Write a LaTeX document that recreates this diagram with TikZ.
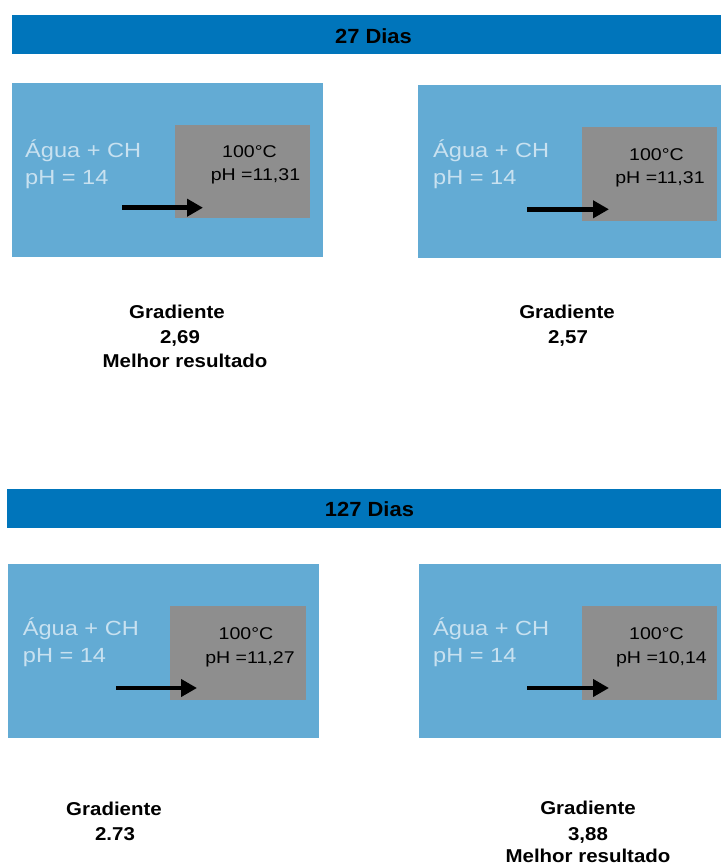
\documentclass[tikz,border=0pt]{standalone}
\usepackage{fontspec}
\setmainfont{Liberation Sans}
\newfontfamily\boxfont[FakeStretch=1.15]{Liberation Sans}
\newfontfamily\labfont[FakeStretch=1.1]{Liberation Sans}
\newfontfamily\titfont[FakeStretch=1.07]{Liberation Sans}
\usetikzlibrary{arrows.meta}
\definecolor{barblue}{RGB}{0,117,187}
\definecolor{boxblue}{RGB}{99,171,212}
\definecolor{boxgray}{RGB}{142,142,142}
\definecolor{paletext}{RGB}{200,225,240}
\begin{document}
\begin{tikzpicture}[x=1pt,y=-1pt,
  rectbox/.style={inner sep=0pt, outer sep=0pt, anchor=north west},
  barbox/.style={rectbox, fill=barblue},
  bluebox/.style={rectbox, fill=boxblue},
  graybox/.style={rectbox, fill=boxgray},
  titletext/.style={inner sep=0pt, anchor=base, font=\titfont\bfseries\fontsize{20.5}{24}\selectfont},
  bluetext/.style={inner sep=0pt, anchor=base west, text=paletext, font=\boxfont\fontsize{20.5}{24}\selectfont},
  graytext/.style={inner sep=0pt, anchor=base, text=black, font=\boxfont\fontsize{17}{20}\selectfont},
  labtext/.style={inner sep=0pt, anchor=base, font=\labfont\bfseries\fontsize{18.6}{22}\selectfont},
  heat/.style={line width=4.5pt, -{Triangle[length=16pt,width=17pt]}}]
\useasboundingbox (0,0) rectangle (721,865);

% ---- 27 Dias ----
\node[barbox, minimum width=709pt, minimum height=39pt] (bar1) at (12,15) {};
\node[titletext] (t1) at (373.5,43) {27 Dias};

\node[bluebox, minimum width=311pt, minimum height=174pt] (b1) at (12,83) {};
\node[graybox, minimum width=135pt, minimum height=93pt] (g1) at (175,125) {};
\node[bluetext] (a1) at (25,157) {Água + CH};
\node[bluetext] (p1) at (25,184) {pH = 14};
\node[graytext] (c1) at (249.5,157) {100°C};
\node[graytext] (h1) at (255.5,180.5) {pH =11,31};
\coordinate (s1) at (122,207.7);
\coordinate (e1) at (203,207.7);
\draw[heat] (s1) -- (e1);

\node[bluebox, minimum width=303pt, minimum height=173pt] (b2) at (418,85) {};
\node[graybox, minimum width=135pt, minimum height=94pt] (g2) at (582,127) {};
\node[bluetext] (a2) at (433,157) {Água + CH};
\node[bluetext] (p2) at (433,184) {pH = 14};
\node[graytext] (c2) at (656.5,160) {100°C};
\node[graytext] (h2) at (660,183) {pH =11,31};
\coordinate (s2) at (527,209.3);
\coordinate (e2) at (609,209.3);
\draw[heat] (s2) -- (e2);

\node[labtext] (l1a) at (177,318) {Gradiente};
\node[labtext] (l1b) at (180,343) {2,69};
\node[labtext] (l1c) at (185,367) {Melhor resultado};
\node[labtext] (l2a) at (567,318) {Gradiente};
\node[labtext] (l2b) at (568,343) {2,57};

% ---- 127 Dias ----
\node[barbox, minimum width=714pt, minimum height=39pt] (bar2) at (7,489) {};
\node[titletext] (t2) at (369.5,516.7) {127 Dias};

\node[bluebox, minimum width=311pt, minimum height=174pt] (b3) at (8,564) {};
\node[graybox, minimum width=136pt, minimum height=94pt] (g3) at (170,606) {};
\node[bluetext] (a3) at (22.7,635) {Água + CH};
\node[bluetext] (p3) at (22.7,662) {pH = 14};
\node[graytext] (c3) at (246,639) {100°C};
\node[graytext] (h3) at (250,663) {pH =11,27};
\coordinate (s3) at (116,688);
\coordinate (e3) at (197,688);
\draw[heat] (s3) -- (e3);

\node[bluebox, minimum width=302pt, minimum height=174pt] (b4) at (419,564) {};
\node[graybox, minimum width=135pt, minimum height=94pt] (g4) at (582,606) {};
\node[bluetext] (a4) at (433,635) {Água + CH};
\node[bluetext] (p4) at (433,662) {pH = 14};
\node[graytext] (c4) at (656.5,639) {100°C};
\node[graytext] (h4) at (661.5,663) {pH =10,14};
\coordinate (s4) at (527,688);
\coordinate (e4) at (609,688);
\draw[heat] (s4) -- (e4);

\node[labtext] (l3a) at (114,815) {Gradiente};
\node[labtext] (l3b) at (115,840) {2.73};
\node[labtext] (l4a) at (588,814) {Gradiente};
\node[labtext] (l4b) at (588,840) {3,88};
\node[labtext] (l4c) at (588,862) {Melhor resultado};
\end{tikzpicture}
\end{document}
